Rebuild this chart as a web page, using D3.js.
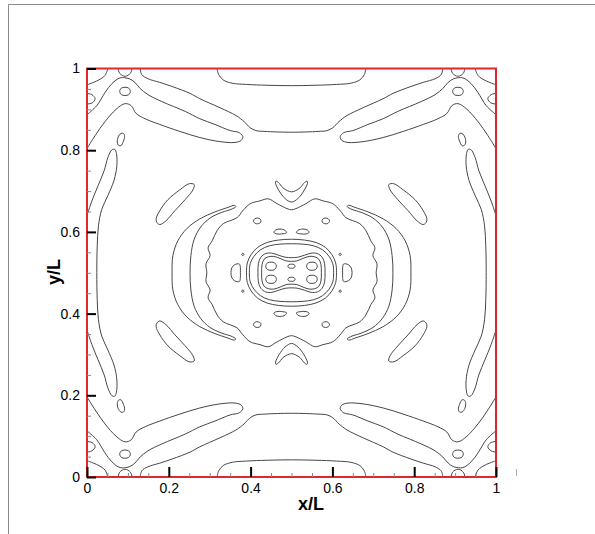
<!DOCTYPE html>
<html>
<head>
<meta charset="utf-8">
<script src="https://cdn.jsdelivr.net/npm/d3@7/dist/d3.min.js"></script>
<style>
  body { margin: 0; background: #fff; }
  svg { display: block; font-family: "Liberation Sans", Arial, sans-serif; }
</style>
</head>
<body>
<script>
// The field is symmetric about x/L = 0.5 and y/L = 0.5, so every contour
// is read off the lower-left quarter (x/L, y/L) and reflected.

var tickValues = [0, 0.2, 0.4, 0.6, 0.8, 1];
var tickLabels = ["0", "0.2", "0.4", "0.6", "0.8", "1"];
var minorTicks = [0.05, 0.1, 0.15, 0.25, 0.3, 0.35, 0.45, 0.5, 0.55, 0.65, 0.7, 0.75, 0.85, 0.9, 0.95];

// corner pieces (plot edge to plot edge)
var cornerArc = [[0, 0.040], [0.027, 0.029], [0.044, 0.017], [0.051, 0]];
var edgeLoop = [[0, 0.061], [0.012, 0.064], [0.020, 0.074], [0.013, 0.084], [0, 0.087]];
var bottomLoop = [[0.076, 0], [0.080, 0.012], [0.093, 0.019], [0.106, 0.012], [0.110, 0]];
var cornerEllipse = [[0.080, 0.056], [0.084, 0.064], [0.093, 0.066], [0.102, 0.064],
                     [0.106, 0.056], [0.102, 0.048], [0.093, 0.046], [0.084, 0.048]];
var band = [[0, 0.196], [0.020, 0.164], [0.044, 0.130], [0.071, 0.100], [0.093, 0.086],
            [0.108, 0.091], [0.120, 0.110], [0.142, 0.123], [0.178, 0.137], [0.227, 0.154],
            [0.276, 0.169], [0.325, 0.179], [0.362, 0.181], [0.377, 0.176], [0.381, 0.167],
            [0.372, 0.157], [0.350, 0.152], [0.313, 0.137], [0.276, 0.123], [0.240, 0.105],
            [0.183, 0.081], [0.149, 0.064], [0.130, 0.049], [0.117, 0.034], [0.103, 0.025],
            [0.081, 0.023], [0.061, 0.037], [0.044, 0.059], [0.024, 0.091], [0, 0.113]];
var smallEllipse = [[0.074, 0.180], [0.077, 0.188], [0.083, 0.189], [0.089, 0.178],
                    [0.092, 0.166], [0.089, 0.159], [0.083, 0.159], [0.076, 0.168]];
var diagIsland = [[0.171, 0.377], [0.178, 0.382], [0.193, 0.373], [0.215, 0.348], [0.240, 0.321],
                  [0.259, 0.297], [0.262, 0.284], [0.250, 0.282], [0.227, 0.297], [0.198, 0.321],
                  [0.178, 0.348], [0.169, 0.368]];

// bottom edge to x/L = 0.5
var longCurve = [[0.130, 0], [0.134, 0.015], [0.149, 0.025], [0.178, 0.034], [0.208, 0.044],
                 [0.252, 0.061], [0.276, 0.074], [0.325, 0.096], [0.364, 0.115], [0.384, 0.130],
                 [0.399, 0.145], [0.413, 0.152], [0.435, 0.154], [0.5, 0.156]];
var bottomArc = [[0.318, 0], [0.322, 0.015], [0.333, 0.028], [0.355, 0.036], [0.390, 0.039],
                 [0.440, 0.041], [0.5, 0.042]];

// left edge to y/L = 0.5
var sideCurve = [[0, 0.360], [0.012, 0.324], [0.027, 0.287], [0.042, 0.250], [0.051, 0.218],
                 [0.061, 0.199], [0.068, 0.198], [0.072, 0.208], [0.073, 0.238], [0.066, 0.274],
                 [0.051, 0.311], [0.036, 0.345], [0.028, 0.385], [0.025, 0.434], [0.024, 0.5]];

// closed shapes crossing y/L = 0.5 (lower half)
var sideCrescent = [[0.208, 0.5], [0.210, 0.458], [0.222, 0.422], [0.244, 0.392], [0.276, 0.368],
                    [0.313, 0.351], [0.345, 0.340], [0.360, 0.335], [0.364, 0.338], [0.352, 0.345],
                    [0.330, 0.352], [0.301, 0.366], [0.278, 0.388], [0.262, 0.418], [0.254, 0.458],
                    [0.252, 0.5]];
var halfMoon = [[0.352, 0.5], [0.354, 0.488], [0.360, 0.481], [0.368, 0.478], [0.373, 0.479],
                [0.375, 0.488], [0.375, 0.5]];

// closed shapes crossing x/L = 0.5 (left half)
var lowCrescent = [[0.5, 0.327], [0.484, 0.318], [0.470, 0.300], [0.461, 0.281], [0.462, 0.276],
                   [0.468, 0.279], [0.479, 0.292], [0.490, 0.299], [0.5, 0.302]];
var centreDot = [[0.5, 0.489], [0.494, 0.488], [0.491, 0.484], [0.494, 0.480], [0.5, 0.479]];

// rings round the centre (quarter from y/L = 0.5 to x/L = 0.5)
var wavyLoop = [[0.293, 0.5], [0.291, 0.478], [0.301, 0.458], [0.296, 0.439], [0.306, 0.422],
                [0.318, 0.397], [0.333, 0.380], [0.367, 0.365], [0.381, 0.348], [0.399, 0.331],
                [0.423, 0.324], [0.443, 0.319], [0.465, 0.331], [0.489, 0.343], [0.5, 0.346]];
var ring1 = [[0.390, 0.5], [0.392, 0.476], [0.401, 0.456], [0.417, 0.438], [0.440, 0.426],
             [0.468, 0.420], [0.5, 0.418]];
var ring2 = [[0.397, 0.5], [0.399, 0.478], [0.408, 0.460], [0.424, 0.444], [0.446, 0.434],
             [0.472, 0.430], [0.5, 0.429]];
var ring3 = [[0.418, 0.5], [0.419, 0.478], [0.425, 0.462], [0.437, 0.453], [0.452, 0.452],
             [0.468, 0.457], [0.485, 0.462], [0.5, 0.463]];
var ring4 = [[0.427, 0.5], [0.428, 0.480], [0.433, 0.467], [0.443, 0.461], [0.457, 0.460],
             [0.472, 0.465], [0.487, 0.471], [0.5, 0.472]];

// small islands inside one quarter
var innerBlob = [[0.437, 0.484], [0.441, 0.492], [0.450, 0.494], [0.459, 0.492], [0.463, 0.484],
                 [0.459, 0.476], [0.450, 0.474], [0.441, 0.476]];
var tinyDot = [[0.378, 0.455], [0.381, 0.458], [0.384, 0.455], [0.381, 0.452]];
var lensBlob = [[0.457, 0.401], [0.464, 0.405], [0.476, 0.405], [0.488, 0.402], [0.484, 0.396],
                [0.472, 0.393], [0.462, 0.395]];
var smallBlob = [[0.407, 0.373], [0.411, 0.379], [0.418, 0.380], [0.425, 0.376], [0.424, 0.369],
                 [0.417, 0.366], [0.410, 0.368]];

var contours = [
  {pts: cornerArc, kind: "open"},
  {pts: edgeLoop, kind: "open"},
  {pts: bottomLoop, kind: "open"},
  {pts: band, kind: "open"},
  {pts: cornerEllipse, kind: "closed"},
  {pts: smallEllipse, kind: "closed"},
  {pts: diagIsland, kind: "closed"},
  {pts: innerBlob, kind: "closed"},
  {pts: tinyDot, kind: "closed"},
  {pts: lensBlob, kind: "closed"},
  {pts: smallBlob, kind: "closed"},
  {pts: longCurve, kind: "openX"},
  {pts: bottomArc, kind: "openX"},
  {pts: sideCurve, kind: "openY"},
  {pts: sideCrescent, kind: "halfY"},
  {pts: halfMoon, kind: "halfY"},
  {pts: lowCrescent, kind: "halfX"},
  {pts: centreDot, kind: "halfX"},
  {pts: wavyLoop, kind: "quad"},
  {pts: ring1, kind: "quad"},
  {pts: ring2, kind: "quad"},
  {pts: ring3, kind: "quad"},
  {pts: ring4, kind: "quad"}
];

var mx = function(p) { return [1 - p[0], p[1]]; };
var my = function(p) { return [p[0], 1 - p[1]]; };
var mxy = function(p) { return [1 - p[0], 1 - p[1]]; };
var id = function(p) { return p; };

// turn a quarter contour into the full set of paths
function expand(c) {
  var p = c.pts, out = [];
  if (c.kind == "open" || c.kind == "closed") {
    [id, mx, my, mxy].forEach(function(f) {
      out.push({pts: p.map(f), closed: c.kind == "closed"});
    });
  } else if (c.kind == "openX") {
    var full = p.concat(p.map(mx).reverse().slice(1));
    out.push({pts: full, closed: false}, {pts: full.map(my), closed: false});
  } else if (c.kind == "openY") {
    var full = p.concat(p.map(my).reverse().slice(1));
    out.push({pts: full, closed: false}, {pts: full.map(mx), closed: false});
  } else if (c.kind == "halfX") {
    var full = p.concat(p.map(mx).reverse().slice(1, -1));
    out.push({pts: full, closed: true}, {pts: full.map(my), closed: true});
  } else if (c.kind == "halfY") {
    var full = p.concat(p.map(my).reverse().slice(1, -1));
    out.push({pts: full, closed: true}, {pts: full.map(mx), closed: true});
  } else if (c.kind == "quad") {
    var full = p
      .concat(p.map(mx).reverse().slice(1))
      .concat(p.map(mxy).slice(1))
      .concat(p.map(my).reverse().slice(1, -1));
    out.push({pts: full, closed: true});
  }
  return out;
}

var width = 595, height = 534;
var x = d3.scaleLinear().domain([0, 1]).range([87, 496]);
var y = d3.scaleLinear().domain([0, 1]).range([477, 68.5]);

var svg = d3.select("body").append("svg")
    .attr("width", width)
    .attr("height", height);

// outer page frame
svg.append("line").attr("x1", 8.5).attr("x2", 595).attr("y1", 4.5).attr("y2", 4.5)
    .attr("stroke", "#8a8a8a").attr("stroke-width", 1);
svg.append("line").attr("x1", 8.5).attr("x2", 8.5).attr("y1", 4.5).attr("y2", 534)
    .attr("stroke", "#8a8a8a").attr("stroke-width", 1);
svg.append("line").attr("x1", 516.5).attr("x2", 516.5).attr("y1", 469).attr("y2", 476)
    .attr("stroke", "#b0b0b0").attr("stroke-width", 1);

svg.append("clipPath").attr("id", "plotClip")
  .append("rect")
    .attr("x", x(0)).attr("y", y(1))
    .attr("width", x(1) - x(0)).attr("height", y(0) - y(1));

var lineOpen = d3.line()
    .x(function(d) { return x(d[0]); })
    .y(function(d) { return y(d[1]); })
    .curve(d3.curveCatmullRom.alpha(0.5));
var lineClosed = d3.line()
    .x(function(d) { return x(d[0]); })
    .y(function(d) { return y(d[1]); })
    .curve(d3.curveCatmullRomClosed.alpha(0.5));

var paths = [];
contours.forEach(function(c) { paths = paths.concat(expand(c)); });

svg.append("g")
    .attr("clip-path", "url(#plotClip)")
  .selectAll("path")
    .data(paths)
  .enter().append("path")
    .attr("d", function(d) { return d.closed ? lineClosed(d.pts) : lineOpen(d.pts); })
    .attr("fill", "none")
    .attr("stroke", "#474747")
    .attr("stroke-width", 1);

// red frame
svg.append("rect")
    .attr("x", x(0)).attr("y", y(1))
    .attr("width", x(1) - x(0)).attr("height", y(0) - y(1))
    .attr("fill", "none")
    .attr("stroke", "#e0282c")
    .attr("stroke-width", 2);

// minor ticks
svg.append("g")
    .attr("transform", "translate(" + x(0) + ",0)")
    .call(d3.axisLeft(y).tickValues(minorTicks).tickSize(-4).tickFormat(""))
    .call(function(g) { g.select(".domain").remove(); })
    .selectAll("line").attr("stroke", "#888");
svg.append("g")
    .attr("transform", "translate(0," + y(0) + ")")
    .call(d3.axisBottom(x).tickValues(minorTicks).tickSize(-4).tickFormat(""))
    .call(function(g) { g.select(".domain").remove(); })
    .selectAll("line").attr("stroke", "#888");

// major ticks and labels
var yAxis = svg.append("g")
    .attr("transform", "translate(" + x(0) + ",0)")
    .call(d3.axisLeft(y).tickValues(tickValues).tickSize(-9).tickPadding(7)
      .tickFormat(function(d, i) { return tickLabels[i]; }));
var xAxis = svg.append("g")
    .attr("transform", "translate(0," + y(0) + ")")
    .call(d3.axisBottom(x).tickValues(tickValues).tickSize(-10).tickPadding(6)
      .tickFormat(function(d, i) { return tickLabels[i]; }));

[xAxis, yAxis].forEach(function(g) {
  g.select(".domain").remove();
  g.selectAll("line").attr("stroke", "#000").attr("stroke-width", 2);
  g.selectAll("text")
    .attr("fill", "#000")
    .style("font-size", "14px")
    .style("font-family", "'Liberation Sans', Arial, sans-serif");
});

svg.append("text")
    .attr("x", 311)
    .attr("y", 510)
    .attr("text-anchor", "middle")
    .style("font-size", "18px")
    .style("font-weight", "bold")
    .text("x/L");

svg.append("text")
    .attr("transform", "translate(59.5,272) rotate(-90)")
    .attr("text-anchor", "middle")
    .style("font-size", "18px")
    .style("font-weight", "bold")
    .text("y/L");
</script>
</body>
</html>
